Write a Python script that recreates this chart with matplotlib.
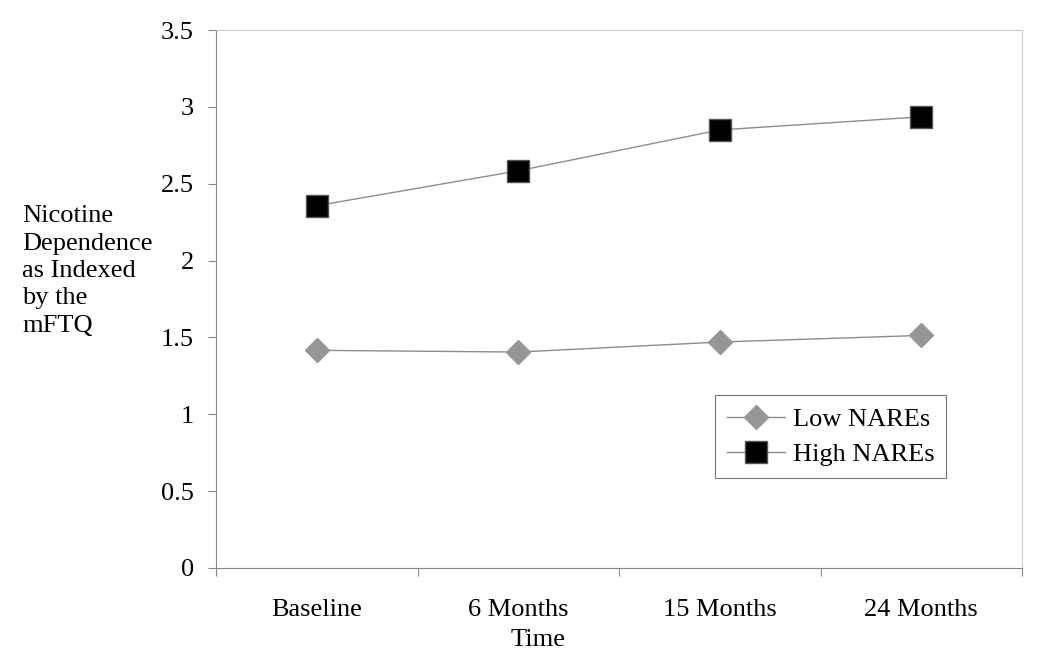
import matplotlib
matplotlib.use('Agg')
import matplotlib.pyplot as plt

times = ['Baseline', '6 Months', '15 Months', '24 Months']
low_nares = [1.416, 1.405, 1.47, 1.513]
high_nares = [2.357, 2.584, 2.85, 2.935]
yticks = [0, 0.5, 1, 1.5, 2, 2.5, 3, 3.5]
ylabel_lines = ['Nicotine', 'Dependence', 'as Indexed', 'by the', 'mFTQ']

plt.rcParams.update({'font.family': ['Liberation Serif', 'DejaVu Serif'], 'font.size': 19})
fig = plt.figure(figsize=(10.5, 6.6), dpi=100)
ax = fig.add_axes([216/1050, 1-568/660, (1022-216)/1050, (568-30)/660])

xs = [i + 0.5 for i in range(len(times))]
ax.plot(xs, low_nares, '-', color='#8c8c8c', lw=1.0, marker='D', ms=12,
        mfc='#969696', mec='#969696', label='Low NAREs')
ax.plot(xs, high_nares, '-', color='#8c8c8c', lw=1.0, marker='s', ms=16,
        mfc='black', mec='#555555', label='High NAREs')

ax.set_xlim(0, len(times))
ax.set_ylim(0, 3.5)
ax.set_yticks(yticks)
ax.set_yticklabels(['0', '0.5', '1', '1.5', '2', '2.5', '3', '3.5'])
ax.set_xticks(range(len(times) + 1))
ax.set_xticklabels([])
ax.set_xticks(xs, minor=True)
ax.set_xticklabels(times, minor=True)
ax.tick_params(axis='x', which='minor', length=0, pad=22)
ax.tick_params(axis='both', which='major', color='#888888', length=6, direction='out')
ax.tick_params(axis='y', which='major', pad=10)
for side in ['left', 'bottom']:
    ax.spines[side].set_color('#888888')
for side in ['top', 'right']:
    ax.spines[side].set_color('#cccccc')

fig.text(538/1050, 1-640/660, 'Time', ha='center', va='center', fontsize=19)
fig.text(22/1050, 1-271/660, '\n'.join(ylabel_lines), ha='left', va='center',
         fontsize=19, linespacing=1.32)

leg = ax.legend(loc='lower left', bbox_to_anchor=((715-216)/806, (568-478)/538),
                frameon=True, fancybox=False, fontsize=19, handlelength=2.2,
                borderpad=0.45, labelspacing=0.45, handletextpad=0.3,
                borderaxespad=0)
leg.get_frame().set_edgecolor('#555555')
leg.get_frame().set_linewidth(0.8)

fig.savefig('out.png', dpi=100)
